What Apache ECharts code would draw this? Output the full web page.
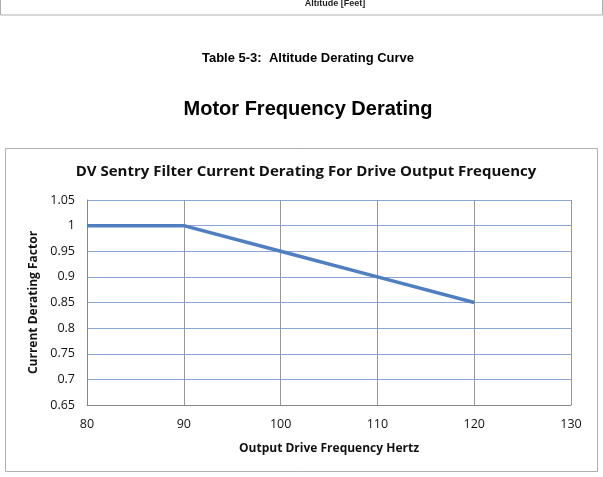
<!DOCTYPE html>
<html>
<head>
<meta charset="utf-8">
<script src="https://cdn.jsdelivr.net/npm/echarts@6/dist/echarts.min.js"></script>
<style>
    html, body { margin: 0; padding: 0; background: #fff; }
    #chart { width: 603px; height: 477px; }
</style>
</head>
<body>
<div id="chart"></div>
<script>
// 数据
var freqHz = [80, 90, 100, 110, 120];
var derating = [1, 1, 0.95, 0.9, 0.85];
var xTicks = [80, 90, 100, 110, 120, 130];
var yTicks = [0.65, 0.7, 0.75, 0.8, 0.85, 0.9, 0.95, 1, 1.05];

var points = [];
for (var i = 0; i < freqHz.length; i++) {
    points.push([freqHz[i], derating[i]]);
}

var myChart = echarts.init(document.getElementById('chart'));
var option = {
    animation: false,
    backgroundColor: '#fff',
    title: [
        {
            text: 'Altitude [Feet]',
            left: 330, top: -6, textAlign: 'center',
            textStyle: {fontFamily: 'Liberation Sans', fontSize: 9, fontWeight: 'bold', color: '#222'}
        },
        {
            text: 'Table 5-3:  Altitude Derating Curve',
            left: 303, top: 47, textAlign: 'center',
            textStyle: {fontFamily: 'Liberation Sans', fontSize: 13, fontWeight: 'bold', color: '#000'}
        },
        {
            text: 'Motor Frequency Derating',
            left: 303, top: 94, textAlign: 'center',
            textStyle: {fontFamily: 'Liberation Sans', fontSize: 20, fontWeight: 'bold', color: '#000'}
        },
        {
            text: 'DV Sentry Filter Current Derating For Drive Output Frequency',
            left: 301, top: 159, textAlign: 'center',
            textStyle: {fontFamily: 'Open Sans', fontSize: 15, fontWeight: 'bold', color: '#111'}
        }
    ],
    graphic: [
        // 上一图的边框残留
        {type: 'rect', shape: {x: 0.5, y: -10, width: 602, height: 25}, style: {fill: 'none', stroke: '#b0b0b0', lineWidth: 1}},
        // 图表外框
        {type: 'rect', shape: {x: 5.5, y: 148.5, width: 592, height: 323}, style: {fill: 'none', stroke: '#b0b0b0', lineWidth: 1}}
    ],
    grid: {left: 87, right: 32, top: 200, bottom: 72},
    xAxis: {
        type: 'value',
        min: 80, max: 130, interval: 10,
        name: 'Output Drive Frequency Hertz',
        nameLocation: 'middle',
        nameGap: 38,
        nameTextStyle: {fontFamily: 'Open Sans', fontSize: 12, fontWeight: 'bold', color: '#111'},
        axisLine: {lineStyle: {color: '#888', width: 1}},
        axisTick: {show: false},
        axisLabel: {fontFamily: 'Open Sans', fontSize: 12.5, color: '#111', margin: 13},
        splitLine: {show: true, lineStyle: {color: '#999', width: 1}}
    },
    yAxis: {
        type: 'value',
        min: 0.65, max: 1.05, interval: 0.05,
        name: 'Current Derating Factor',
        nameLocation: 'middle',
        nameGap: 47,
        nameTextStyle: {fontFamily: 'Open Sans', fontSize: 12, fontWeight: 'bold', color: '#111'},
        axisLine: {show: true, lineStyle: {color: '#888', width: 1}},
        axisTick: {show: false},
        axisLabel: {
            fontFamily: 'Open Sans', fontSize: 12.5, color: '#111', margin: 12,
            formatter: function (v) { return String(+v.toFixed(2)); }
        },
        splitLine: {show: true, lineStyle: {color: '#8aa6d6', width: 1}}
    },
    series: [
        {
            type: 'line',
            data: points,
            symbol: 'none',
            lineStyle: {color: '#4f7fc0', width: 3.5}
        }
    ]
};
myChart.setOption(option);
</script>
</body>
</html>
